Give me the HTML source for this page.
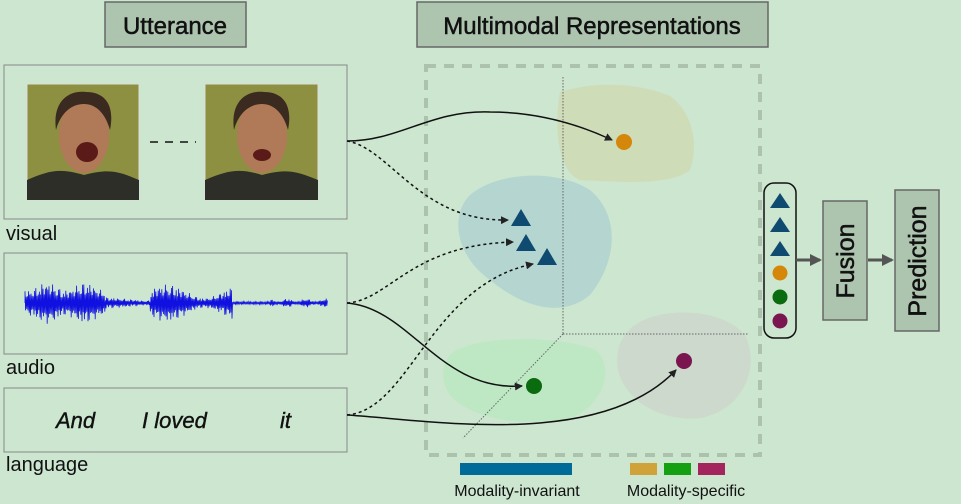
<!DOCTYPE html>
<html><head><meta charset="utf-8"><style>
html,body{margin:0;padding:0;background:#cce6cf;}
svg{display:block;font-family:"Liberation Sans",Arial,sans-serif;}
</style></head><body>
<svg id="fig" width="961" height="504" viewBox="0 0 961 504">
<defs>
<marker id="ah" markerWidth="8" markerHeight="8" refX="7" refY="4" orient="auto" markerUnits="userSpaceOnUse"><path d="M0,0 L8,4 L0,8 z" fill="#222"/></marker>
<marker id="ah2" markerWidth="12" markerHeight="12" refX="10" refY="6" orient="auto" markerUnits="userSpaceOnUse"><path d="M0,0 L12,6 L0,12 z" fill="#555"/></marker>
</defs>
<rect width="961" height="504" fill="#cce6cf"/>
<g>
<rect x="105" y="2" width="141" height="45" fill="#adc4af" stroke="#666" stroke-width="1.5"/>
<text x="175" y="34" font-size="24" text-anchor="middle" fill="#111" stroke="#111" stroke-width="0.5">Utterance</text></g>
<g>
<rect x="417" y="2" width="351" height="45" fill="#adc4af" stroke="#666" stroke-width="1.5"/>
<text x="592" y="34" font-size="24" text-anchor="middle" fill="#111" stroke="#111" stroke-width="0.5">Multimodal Representations</text></g>

<g>
<rect x="4" y="65" width="343" height="154" fill="none" stroke="#888" stroke-width="1"/>
<g>
<rect x="27" y="84" width="112" height="116" fill="#8d9040" stroke="#ddd"/>
<path d="M27,200 L27,180 C50,170 60,168 84,175 C110,168 120,172 139,180 L139,200z" fill="#2e2e28"/>
<ellipse cx="84" cy="135" rx="25" ry="38" fill="#b07a58"/>
<path d="M56,130 C52,100 70,90 86,92 C105,92 115,105 110,130 C105,112 95,104 84,104 C70,104 60,115 56,130z" fill="#3a2a20"/>
<ellipse cx="87" cy="152" rx="11" ry="10" fill="#5a1a18"/></g>
<g>
<rect x="205" y="84" width="113" height="116" fill="#8d9040" stroke="#ddd"/>
<path d="M205,200 L205,180 C228,170 240,168 262,175 C288,168 298,172 318,180 L318,200z" fill="#2e2e28"/>
<ellipse cx="262" cy="135" rx="25" ry="38" fill="#b07a58"/>
<path d="M234,130 C230,100 248,90 264,92 C283,92 293,105 288,130 C283,112 273,104 262,104 C248,104 238,115 234,130z" fill="#3a2a20"/>
<ellipse cx="262" cy="155" rx="9" ry="6" fill="#5a1a18"/></g>
<line x1="150" y1="142" x2="196" y2="142" stroke="#111" stroke-width="1.5" stroke-dasharray="8 7"/>
</g>
<text x="6" y="240" font-size="20" fill="#111">visual</text>

<g>
<rect x="4" y="253" width="343" height="101" fill="none" stroke="#888" stroke-width="1"/>
<path id="wave" fill="none" stroke="#1010e0" stroke-width="0.8"/>
</g>
<text x="6" y="374" font-size="20" fill="#111">audio</text>

<g>
<rect x="4" y="388" width="343" height="64" fill="none" stroke="#888" stroke-width="1"/>
<g font-size="22" font-style="italic" fill="#111" stroke="#111" stroke-width="0.4">
<text x="56" y="428">And</text><text x="142" y="428">I loved</text><text x="280" y="428">it</text></g></g>
<text x="6" y="471" font-size="20" fill="#111">language</text>

<rect x="426" y="66" width="334" height="389" fill="none" stroke="#adc2ad" stroke-width="4" stroke-dasharray="10 8"/>
<path d="M560,92 C600,80 640,84 670,96 C690,110 700,140 690,170 C670,186 620,182 580,180 C555,170 555,120 560,92z" fill="#cfdcb8"/>
<path d="M470,195 C500,170 560,170 590,190 C620,215 618,260 590,295 C560,320 520,305 490,280 C455,255 450,215 470,195z" fill="#b5d5d0"/>
<path d="M450,355 C470,335 560,335 595,350 C615,365 605,405 570,418 C520,428 470,418 450,395 C440,380 442,365 450,355z" fill="#bde8c3"/>
<path d="M625,335 C645,305 720,305 745,335 C760,365 745,410 700,418 C660,422 625,400 618,370 C616,355 618,345 625,335z" fill="#ccd9cc"/>
<g stroke="#666" stroke-width="1" stroke-dasharray="1.5 1.5" fill="none">
<line x1="563" y1="77" x2="563" y2="334"/><line x1="563" y1="334" x2="748" y2="334"/><line x1="563" y1="334" x2="463" y2="438"/></g>

<g fill="none" stroke="#111" stroke-width="1.5">
<path d="M347,141 C400,141 430,110 490,112 C540,112 580,125 612,140" marker-end="url(#ah)"/>
<path d="M347,141 C390,148 420,222 508,220" stroke-dasharray="3 3" marker-end="url(#ah)"/>
<path d="M347,303 C390,300 410,245 513,242" stroke-dasharray="3 3" marker-end="url(#ah)"/>
<path d="M347,303 C410,308 440,392 522,386" marker-end="url(#ah)"/>
<path d="M347,415 C410,410 430,285 533,264" stroke-dasharray="3 3" marker-end="url(#ah)"/>
<path d="M347,415 C430,420 600,450 676,370" marker-end="url(#ah)"/>
</g>
<g fill="#0f4a70">
<path d="M521,209 L531,226 L511,226z"/><path d="M526,234 L536,251 L516,251z"/><path d="M547,248 L557,265 L537,265z"/></g>
<circle cx="624" cy="142" r="8" fill="#d4870b"/>
<circle cx="534" cy="386" r="8" fill="#0a6b0f"/>
<circle cx="684" cy="361" r="8" fill="#7a1550"/>

<g>
<rect x="764" y="183" width="32" height="155" rx="10" fill="none" stroke="#111" stroke-width="1.5"/>
<g fill="#0f4a70"><path d="M780,193 L790,208 L770,208z"/><path d="M780,217 L790,232 L770,232z"/><path d="M780,241 L790,256 L770,256z"/></g>
<circle cx="780" cy="273" r="7.5" fill="#d4870b"/><circle cx="780" cy="297" r="7.5" fill="#0a6b0f"/><circle cx="780" cy="321" r="7.5" fill="#7a1550"/></g>
<line x1="796" y1="260" x2="820" y2="260" stroke="#555" stroke-width="3" marker-end="url(#ah2)"/>
<g>
<rect x="823" y="201" width="44" height="119" fill="#adc4af" stroke="#666" stroke-width="1.5"/>
<text transform="translate(854,261) rotate(-90)" font-size="25" text-anchor="middle" fill="#111" stroke="#111" stroke-width="0.5">Fusion</text></g>
<line x1="868" y1="260" x2="892" y2="260" stroke="#555" stroke-width="3" marker-end="url(#ah2)"/>
<g>
<rect x="895" y="190" width="44" height="141" fill="#adc4af" stroke="#666" stroke-width="1.5"/>
<text transform="translate(926,261) rotate(-90)" font-size="25" text-anchor="middle" fill="#111" stroke="#111" stroke-width="0.5">Prediction</text></g>

<g>
<rect x="460" y="463" width="112" height="12" fill="#006a99"/>
<text x="517" y="496" font-size="16" text-anchor="middle" fill="#111">Modality-invariant</text>
<rect x="630" y="463" width="27" height="12" fill="#cfa23a"/>
<rect x="664" y="463" width="27" height="12" fill="#14a010"/>
<rect x="698" y="463" width="27" height="12" fill="#a4245e"/>
<text x="686" y="496" font-size="16" text-anchor="middle" fill="#111">Modality-specific</text></g>
</svg>
<script>
var env=function(x){
 if(x<25)return 0;
 if(x<105)return 17+4*Math.sin(x/6);
 if(x<140)return 5-3*(x-105)/35+1;
 if(x<150)return 2.5;
 if(x<232)return 12+7*Math.sin((x-148)/12);
 if(x<270)return 1.5;
 if(x<328)return 3+1.5*Math.sin(x/3);
 return 0;};
var d="M25,303";
var s=1;
for(var x=25;x<=328;x+=0.6){var a=env(x)*(0.4+0.6*Math.abs(Math.sin(x*1.7)*Math.cos(x*0.53)));s=-s;d+=" L"+x.toFixed(1)+","+(303+s*a).toFixed(1);}
document.getElementById('wave').setAttribute('d',d);
</script>
</body></html>
